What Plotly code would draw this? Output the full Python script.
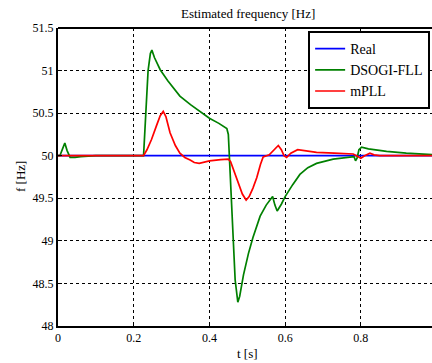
import plotly.graph_objects as go

# ---- data ----
t_real = [0.0, 1.0]
f_real = [50.0, 50.0]

t_dsogi = [0.0, 0.005, 0.012, 0.018, 0.024, 0.032, 0.045, 0.06, 0.1, 0.2, 0.226,
           0.232, 0.238, 0.244, 0.248, 0.255, 0.27, 0.29, 0.322, 0.35, 0.375, 0.40,
           0.425, 0.446, 0.450, 0.456, 0.463, 0.468, 0.475, 0.48, 0.49, 0.503, 0.515,
           0.534, 0.55, 0.567, 0.573, 0.579, 0.59, 0.60, 0.62, 0.639, 0.66, 0.683,
           0.727, 0.76, 0.782, 0.786, 0.79, 0.795, 0.802, 0.82, 0.868, 0.92, 1.0]
f_dsogi = [50.0, 50.0, 50.08, 50.15, 50.06, 49.98, 49.98, 49.99, 50.0, 50.0, 50.0,
           50.5, 51.0, 51.2, 51.24, 51.15, 51.01, 50.88, 50.70, 50.60, 50.52, 50.44,
           50.38, 50.32, 50.25, 49.72, 48.94, 48.54, 48.28, 48.35, 48.6, 48.85, 49.04,
           49.29, 49.42, 49.52, 49.42, 49.35, 49.43, 49.52, 49.66, 49.78, 49.86, 49.91,
           49.96, 49.98, 49.99, 49.94, 49.97, 50.07, 50.10, 50.08, 50.05, 50.03, 50.01]

t_mpll = [0.0, 0.226, 0.235, 0.247, 0.26, 0.27, 0.278, 0.285, 0.296, 0.31, 0.322,
          0.335, 0.349, 0.36, 0.373, 0.385, 0.40, 0.43, 0.45, 0.456, 0.463, 0.475,
          0.487, 0.497, 0.505, 0.515, 0.525, 0.535, 0.542, 0.558, 0.57, 0.582, 0.59,
          0.597, 0.604, 0.615, 0.633, 0.65, 0.683, 0.73, 0.78, 0.792, 0.80, 0.81,
          0.824, 0.835, 0.85, 1.0]
f_mpll = [50.0, 50.0, 50.07, 50.19, 50.35, 50.47, 50.52, 50.46, 50.27, 50.12, 50.03,
          49.98, 49.95, 49.92, 49.91, 49.92, 49.94, 49.955, 49.96, 49.93, 49.84, 49.70,
          49.55, 49.48, 49.52, 49.62, 49.74, 49.90, 49.985, 50.01, 50.06, 50.12, 50.07,
          50.0, 49.98, 50.03, 50.07, 50.06, 50.04, 50.03, 50.02, 49.99, 49.97, 50.0,
          50.03, 50.01, 50.0, 50.0]

FONT = "Liberation Serif"

fig = go.Figure()
fig.add_trace(go.Scatter(x=t_real, y=f_real, mode="lines", name="Real",
                         line=dict(color="#0000ff", width=1.7)))
fig.add_trace(go.Scatter(x=t_dsogi, y=f_dsogi, mode="lines", name="DSOGI-FLL",
                         line=dict(color="#008000", width=1.7)))
fig.add_trace(go.Scatter(x=t_mpll, y=f_mpll, mode="lines", name="mPLL",
                         line=dict(color="#ff0000", width=1.7)))

axis_common = dict(showline=True, linewidth=2, linecolor="black",
                   showgrid=True, gridcolor="black", gridwidth=1, griddash="dot",
                   zeroline=False, ticks="inside", ticklen=4, tickcolor="black",
                   tickfont=dict(family=FONT, size=12, color="black"))

fig.update_layout(
    width=432, height=363,
    margin=dict(l=58, r=0, t=28, b=37),
    paper_bgcolor="white", plot_bgcolor="white",
    font=dict(family=FONT, size=12, color="black"),
    showlegend=True,
    legend=dict(x=0.995, xanchor="right", y=0.99, yanchor="top",
                bordercolor="black", borderwidth=2, bgcolor="white",
                font=dict(family=FONT, size=14, color="black"),
                tracegroupgap=0, itemwidth=30),
    xaxis=dict(range=[0, 0.988], dtick=0.2, tick0=0, **axis_common),
    yaxis=dict(range=[48, 51.5], dtick=0.5, tick0=48, **axis_common),
    shapes=[dict(type="line", xref="paper", yref="paper", x0=0, x1=1, y0=1, y1=1,
                 line=dict(color="black", width=2))],
    annotations=[
        dict(text="Estimated frequency [Hz]", xref="paper", yref="paper",
             x=0.507, y=1, yshift=5, xanchor="center", yanchor="bottom",
             showarrow=False, font=dict(family=FONT, size=13, color="black")),
        dict(text="t [s]", xref="paper", yref="paper", x=0.507, y=0, yshift=-18,
             xanchor="center", yanchor="top", showarrow=False,
             font=dict(family=FONT, size=13, color="black")),
        dict(text="f [Hz]", xref="paper", yref="paper", x=0, xshift=-38, y=0.5,
             xanchor="center", yanchor="middle", textangle=-90, showarrow=False,
             font=dict(family=FONT, size=13, color="black")),
    ],
)

fig.write_html("out.html", config={"displayModeBar": False},
               post_script="document.body.style.margin='0';")
